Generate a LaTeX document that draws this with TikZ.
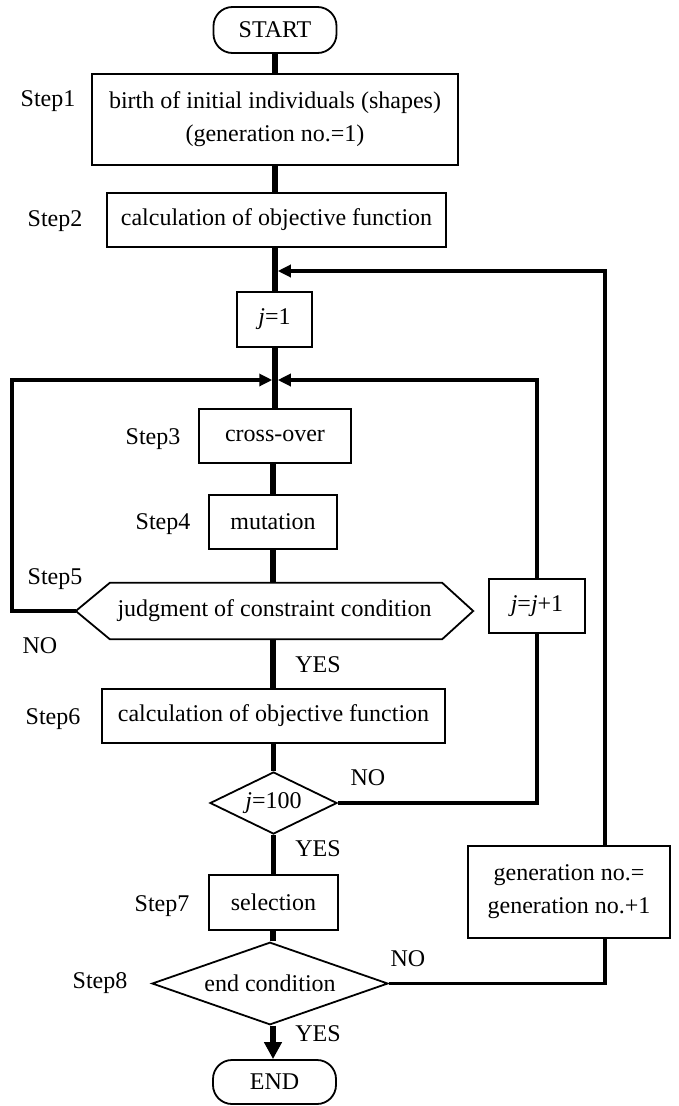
\documentclass[tikz,border=0pt]{standalone}
\usepackage{fontspec}
\setmainfont{Liberation Serif}
\usetikzlibrary{arrows.meta,shapes.geometric,calc}
\tikzset{
  box/.style={draw, line width=1.8pt, rectangle, inner sep=0pt, font=\fontsize{24}{33}\selectfont, align=center},
  term/.style={box, rounded corners=19pt},
  dia/.style={draw, line width=1.8pt, diamond, aspect=2, inner sep=0pt, font=\fontsize{24}{33}\selectfont},
  lab/.style={font=\fontsize{24}{33}\selectfont, inner sep=0pt},
  spine/.style={line width=5.5pt},
  loopl/.style={line width=3.2pt},
  tip/.style={-{Triangle[length=13pt,width=12pt]}},
}
\begin{document}
\begin{tikzpicture}[x=1pt,y=-1pt]
\useasboundingbox (0,0) rectangle (678,1106);
% nodes
\node[term, minimum width=123, minimum height=46] (start) at (275,30) {START};
\node[box, minimum width=366, minimum height=91] (s1) at (275,119.5) {birth of initial individuals (shapes)\\(generation no.=1)};
\node[box, minimum width=339, minimum height=54] (s2) at (276.5,220) {calculation of objective function};
\node[box, minimum width=75, minimum height=55] (j1) at (274.5,319.5) {\textit{j}=1};
\node[box, minimum width=152, minimum height=54] (s3) at (275,436) {cross-over};
\node[box, minimum width=128, minimum height=54] (s4) at (273,522) {mutation};
\node[lab, minimum width=397, minimum height=56] (s5) at (274.5,611) {judgment of constraint condition};
\draw[line width=1.8pt] (s5.west) -- ($(s5.north west)+(34,0)$) -- ($(s5.north east)+(-31,0)$) -- (s5.east)
  -- ($(s5.south east)+(-31,0)$) -- ($(s5.south west)+(34,0)$) -- cycle;
\node[box, minimum width=343, minimum height=54] (s6) at (273.5,716) {calculation of objective function};
\node[dia, minimum width=127, minimum height=62] (d100) at (273.5,803) {\textit{j}=100};
\node[box, minimum width=129, minimum height=55] (s7) at (273.5,902.5) {selection};
\node[dia, minimum width=236, minimum height=63] (dend) at (270,983.5) {end condition};
\node[term, minimum width=123, minimum height=44] (end) at (274.5,1082) {END};
\node[box, minimum width=96, minimum height=54] (jj) at (537,606) {\textit{j}=\textit{j}+1};
\node[box, minimum width=202, minimum height=92] (gen) at (569,892) {generation no.=\\generation no.+1};
% labels
\node[lab] (l1) at (48,101) {Step1};
\node[lab] (l2) at (55,221) {Step2};
\node[lab] (l3) at (153,439) {Step3};
\node[lab] (l4) at (163,524) {Step4};
\node[lab] (l5) at (55,579) {Step5};
\node[lab] (no1) at (40,646) {NO};
\node[lab] (yes1) at (318,665) {YES};
\node[lab] (l6) at (53,719) {Step6};
\node[lab] (no2) at (368,778) {NO};
\node[lab] (yes2) at (318,849) {YES};
\node[lab] (l7) at (162,906) {Step7};
\node[lab] (l8) at (100,983) {Step8};
\node[lab] (no3) at (408,959) {NO};
\node[lab] (yes3) at (318,1034) {YES};
% coordinates
\coordinate (m1) at (275,271);
\coordinate (m2) at (275,380);
\coordinate (ox) at (605,0);
\coordinate (ix) at (537,0);
\coordinate (lx) at (12,0);
\coordinate (sx) at (273,0);
% spine
\draw[spine] (start.south) -- (s1.north);
\draw[spine] (s1.south) -- (s2.north -| s1);
\draw[spine] (s2.south -| m1) -- (j1.north -| m1);
\draw[spine] (j1.south -| m1) -- (s3.north -| m1);
\draw[spine] (s3.south -| s4) -- (s4.north);
\draw[spine] (s4.south) -- (s5.north -| s4);
\draw[spine] (s5.south -| s4) -- (s6.north -| s4);
\draw[spine] (s6.south -| d100) -- (d100.north);
\draw[spine] (d100.south) -- (s7.north -| d100);
\draw[spine] (s7.south -| sx) -- (dend.north -| sx);
\draw[line width=6pt, -{Triangle[length=17pt,width=17pt]}] (dend.south -| sx) -- (end.north -| sx);
% loops
\draw[loopl, tip] (s5.west) -- (s5.west -| lx) -- (m2 -| lx) -- ([xshift=-2.75pt]m2);
\draw[loopl, tip] (jj.north) -- (m2 -| ix) -- ([xshift=2.75pt]m2);
\draw[loopl] (d100.east) -- (d100.east -| ix) -- (jj.south);
\draw[loopl] (dend.east) -- (dend.east -| ox) -- (gen.south -| ox);
\draw[loopl, tip] (gen.north -| ox) -- (m1 -| ox) -- ([xshift=2.75pt]m1);
\end{tikzpicture}
\end{document}
